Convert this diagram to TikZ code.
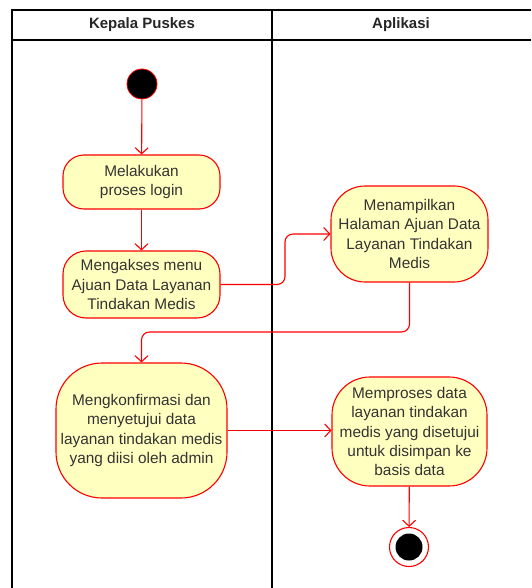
\documentclass[tikz,border=0pt]{standalone}
\usepackage{fontspec}
\setmainfont{Liberation Sans}
\usetikzlibrary{arrows.meta}
\definecolor{actfill}{HTML}{FFFFC0}
\definecolor{actline}{HTML}{FF0000}
\definecolor{txt}{HTML}{333333}
\begin{document}
\begin{tikzpicture}[x=1pt,y=-1pt,
  lane/.style={line width=1.3pt,draw=black},
  act/.style={draw=actline,fill=actfill,line width=1.1pt,align=center,
    text=txt,font=\fontsize{15.4pt}{19.4pt}\selectfont,inner sep=0pt},
  flow/.style={draw=actline,line width=1.1pt,rounded corners=8pt,
    -{Straight Barb[length=6pt,width=13pt,line width=1.1pt]}},
  head/.style={font=\fontsize{15pt}{18pt}\selectfont\bfseries,text=black!85}]
\useasboundingbox (0,0) rectangle (531,588);

% swimlanes
\draw[lane] (12,588) -- (12,10) -- (531,10);
\draw[lane] (12,40) -- (531,40);
\draw[lane] (272,10) -- (272,588);
\node[head] (h1) at (142,25) {Kepala Puskes};
\node[head] (h2) at (401,25) {Aplikasi};

% start and end
\node[circle,fill=black,draw=actline,line width=0.8pt,minimum size=30pt,inner sep=0pt] (start) at (142,84) {};
\node[circle,draw=actline,fill=white,line width=1.1pt,minimum size=39pt,inner sep=0pt] (stop) at (409,547) {};
\node[circle,fill=black,minimum size=27pt,inner sep=0pt] (stopdot) at (409,547) {};

% activities
\node[act,rounded corners=21pt,minimum width=157pt,minimum height=54pt] (a1) at (141.5,182) {Melakukan\\proses login};
\node[act,rounded corners=23pt,minimum width=157pt,minimum height=67pt] (a2) at (141.5,284.5) {Mengakses menu\\Ajuan Data Layanan\\Tindakan Medis};
\node[act,rounded corners=34pt,minimum width=157pt,minimum height=96pt] (a3) at (409.5,234) {Menampilkan\\Halaman Ajuan Data\\Layanan Tindakan\\Medis};
\node[act,rounded corners=46pt,minimum width=171pt,minimum height=135pt] (a4) at (141.5,430.5) {Mengkonfirmasi dan\\menyetujui data\\layanan tindakan medis\\yang diisi oleh admin};
\node[act,rounded corners=38pt,minimum width=155pt,minimum height=109pt] (a5) at (409.5,431.5) {Memproses data\\layanan tindakan\\medis yang disetujui\\untuk disimpan ke\\basis data};

% control flow
\draw[flow] (start) -- (a1);
\draw[flow] (a1) -- (a2);
\draw[flow] (a2.east) -| (285,260) |- (a3.west);
\draw[flow] (a3.south) |- (200,332) -| (a4.north);
\draw[flow] (a4.east) -- (a5.west |- a4.east);
\draw[flow] (a5) -- (stop);
\end{tikzpicture}
\end{document}
